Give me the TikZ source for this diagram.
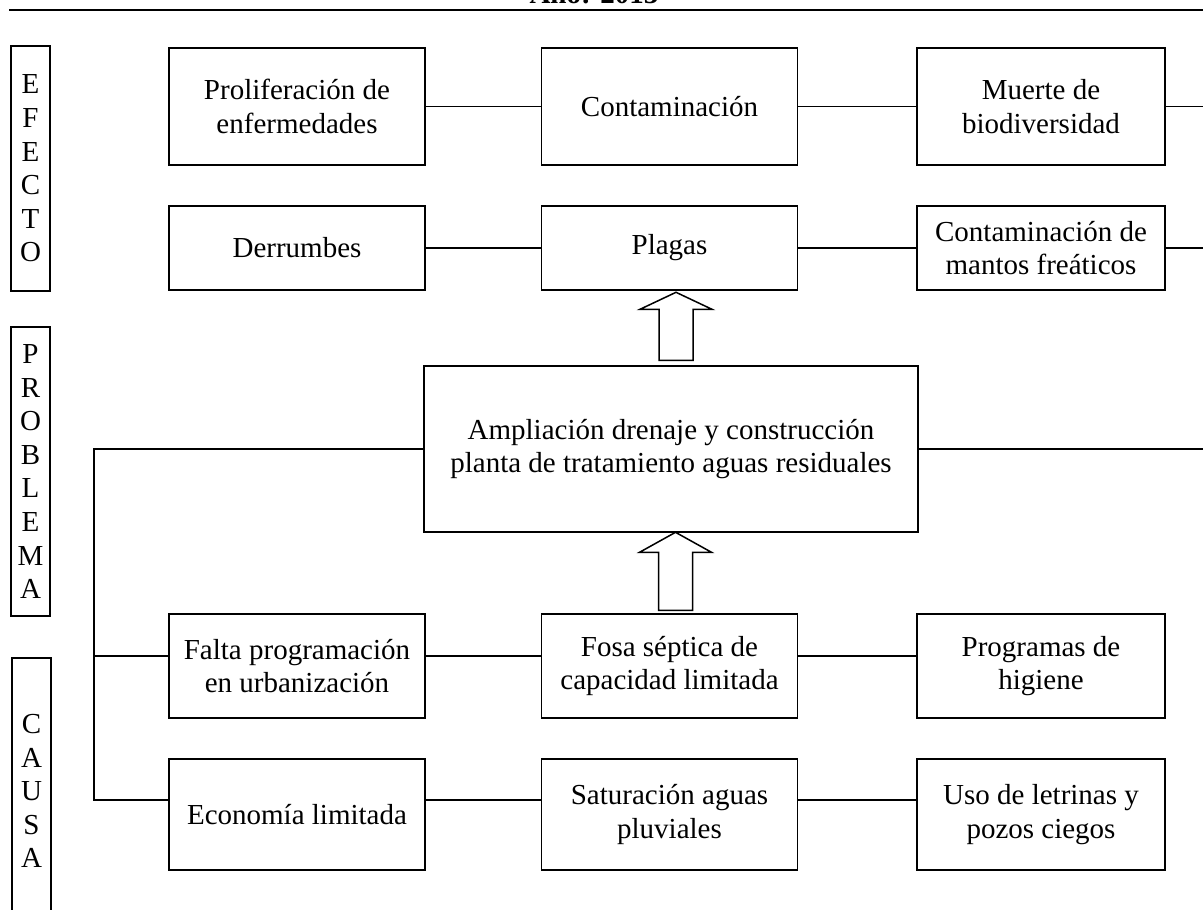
\documentclass[tikz,border=0pt]{standalone}
\usepackage{fontspec}
\setmainfont{Liberation Serif}
\usetikzlibrary{calc}

\tikzset{
  caja/.style={draw, line width=0.7pt, align=center, inner sep=2pt, minimum width=128pt},
  etiqueta/.style={draw, line width=0.7pt, align=center, inner sep=0pt, minimum width=19.5pt},
  enlace/.style={line width=0.55pt},
  flecha/.style={draw, line width=0.75pt, fill=white},
}

\begin{document}
\begin{tikzpicture}[x=0.5pt,y=-0.5pt,font=\fontsize{14.5}{16.8}\selectfont]
  \useasboundingbox (0,0) rectangle (1203,909);
  % encabezado
  \node[anchor=base, font=\fontsize{14.5}{16.8}\selectfont\bfseries] (anio) at (594,4) {Año: 2013};
  \draw[line width=1pt] (9,10) -- (1203,10);

  % columna de etiquetas
  \node[etiqueta, minimum height=122.5pt] (efecto) at (30.5,168.5) {E\\F\\E\\C\\T\\O};
  \node[etiqueta, minimum height=144.5pt] (problema) at (30.5,471.5) {P\\R\\O\\B\\L\\E\\M\\A};
  \node[etiqueta, minimum height=133pt] (causa) at (31.5,791) {C\\A\\U\\S\\A};

  % efectos
  \node[caja, minimum height=58.5pt] (prolif) at (297,106.5) {Proliferación de\\enfermedades};
  \node[caja, minimum height=58.5pt] (contam) at (669.5,106.5) {Contaminación};
  \node[caja, minimum width=124pt, minimum height=58.5pt] (muerte) at (1041,106.5) {Muerte de\\biodiversidad};
  \node[caja, minimum height=42pt] (derrumbes) at (297,248) {Derrumbes};
  \node[caja, minimum height=42pt] (plagas) at (669.5,248) {Plagas};
  \node[caja, minimum width=124pt, minimum height=42pt] (mantos) at (1041,248) {Contaminación de\\mantos freáticos};

  % problema
  \node[caja, minimum width=247pt, minimum height=83pt] (ampliacion) at (671,449) {Ampliación drenaje y construcción\\planta de tratamiento aguas residuales};

  % causas
  \node[caja, minimum height=52pt] (falta) at (297,666) {Falta programación\\en urbanización};
  \node[caja, minimum height=52pt] (fosa) at (669.5,666) {Fosa séptica de\\capacidad limitada};
  \node[caja, minimum width=124pt, minimum height=52pt] (higiene) at (1041,666) {Programas de\\higiene};
  \node[caja, minimum height=55.5pt] (economia) at (297,814.5) {Economía limitada};
  \node[caja, minimum height=55.5pt] (saturacion) at (669.5,814.5) {Saturación aguas\\pluviales};
  \node[caja, minimum width=124pt, minimum height=55.5pt] (letrinas) at (1041,814.5) {Uso de letrinas y\\pozos ciegos};

  \coordinate (borde) at (1203,0);
  \coordinate (esquina) at (94,0);
  \coordinate (nivelC) at (0,656);
  \coordinate (nivelD) at (0,800);

  \draw[enlace] (prolif) -- (contam);
  \draw[enlace] (contam) -- (muerte);
  \draw[enlace] (muerte.east) -- (muerte.east -| borde);
  \draw[enlace] (derrumbes) -- (plagas);
  \draw[enlace] (plagas) -- (mantos);
  \draw[enlace] (mantos.east) -- (mantos.east -| borde);
  \draw[enlace] (ampliacion.east) -- (ampliacion.east -| borde);

  \draw[enlace] (ampliacion.west) -| (esquina |- nivelD) -- (economia.west |- nivelD);
  \draw[enlace] (esquina |- nivelC) -- (falta.west |- nivelC);
  \draw[enlace] (falta.east |- nivelC) -- (fosa.west |- nivelC);
  \draw[enlace] (fosa.east |- nivelC) -- (higiene.west |- nivelC);
  \draw[enlace] (economia.east |- nivelD) -- (saturacion.west |- nivelD);
  \draw[enlace] (saturacion.east |- nivelD) -- (letrinas.west |- nivelD);

  % flechas
  \draw[flecha] ($(fosa.north)+(-11,-3)$) -- ++(0,-58) -- ++(-19,0) -- ++(36,-20) -- ++(36,20) -- ++(-19,0) -- ++(0,58) -- cycle;
  \draw[flecha] ($(ampliacion.north)+(-12,-5)$) -- ++(0,-51) -- ++(-19,0) -- ++(36,-17) -- ++(36,17) -- ++(-19,0) -- ++(0,51) -- cycle;
\end{tikzpicture}
\end{document}
